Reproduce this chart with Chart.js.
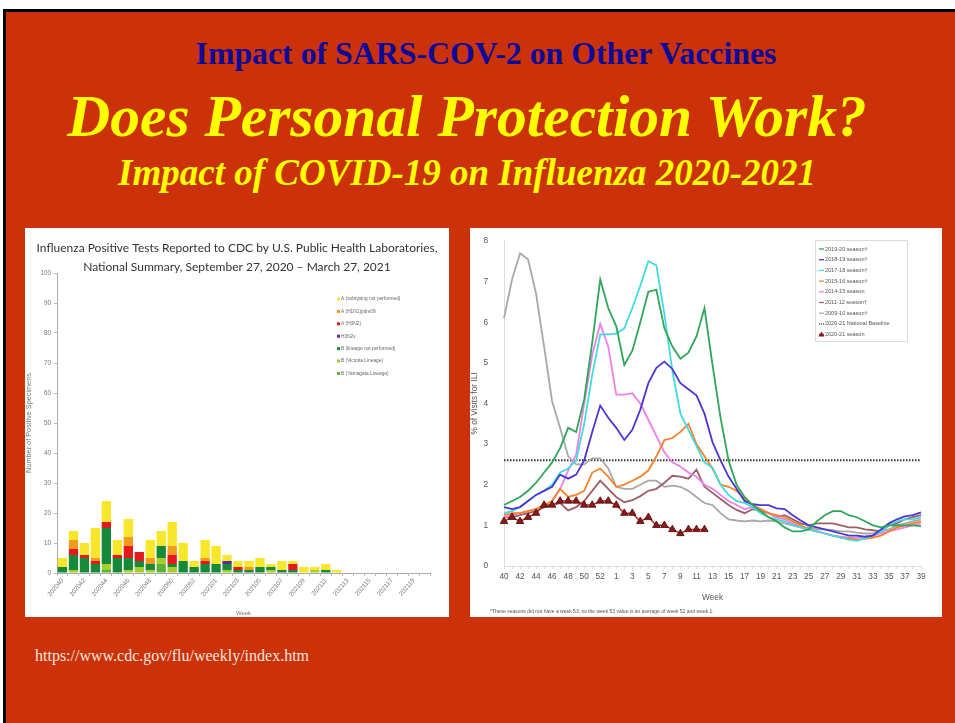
<!DOCTYPE html>
<html>
<head>
<meta charset="utf-8">
<script src="https://cdn.jsdelivr.net/npm/chart.js@4.4.1/dist/chart.umd.min.js"></script>
<style>
  html, body { margin: 0; padding: 0; background: #fff; }
  body { width: 955px; height: 723px; position: relative; overflow: hidden; }
  #slide { position: absolute; left: 3px; top: 9px; width: 960px; height: 720px;
           background: #cb3209; border-left: 3px solid #000; border-top: 3px solid #000; }
  .t { position: absolute; font-family: "Liberation Serif", "Times New Roman", serif;
       white-space: nowrap; line-height: 1; transform: translateX(-50%); }
  #h1 { left: 486px; top: 38px; font-size: 31.8px; font-weight: bold; color: #0b0b9a; }
  #h2 { left: 467px; top: 87px; font-size: 59.5px; font-weight: bold; font-style: italic; color: #ffff00; }
  #h3 { left: 467px; top: 154px; font-size: 37px; font-weight: bold; font-style: italic; color: #ffff00; }
  #src { position: absolute; left: 35px; top: 648px; font-family: "Liberation Serif", serif;
         font-size: 16px; line-height: 1; color: #f6e6dc; }
  .panel { position: absolute; background: #fff; }
  #p1 { left: 25px; top: 228px; width: 424px; height: 389px; }
  #p2 { left: 470px; top: 228px; width: 472px; height: 389px; }
</style>
</head>
<body>
<div id="slide"></div>
<div class="t" id="h1">Impact of SARS-COV-2 on Other Vaccines</div>
<div class="t" id="h2">Does Personal Protection Work?</div>
<div class="t" id="h3">Impact of COVID-19 on Influenza 2020-2021</div>
<div id="src">https://www.cdc.gov/flu/weekly/index.htm</div>
<div class="panel" id="p1"><canvas id="labChart" width="424" height="389"></canvas></div>
<div class="panel" id="p2"><canvas id="iliChart" width="472" height="389"></canvas></div>

<script>
// ---- left chart: public health lab positives, stacked by subtype ----
const labTitle = ['Influenza Positive Tests Reported to CDC by U.S. Public Health Laboratories,',
                  'National Summary, September 27, 2020 \u2013 March 27, 2021'];
const labWeeks = ['202040','202041','202042','202043','202044','202045','202046','202047','202048','202049',
  '202050','202051','202052','202053','202101','202102','202103','202104','202105','202106','202107',
  '202108','202109','202110','202111','202112','202113','202114','202115','202116','202117','202118',
  '202119','202120'];
const bYamagata   = [0,0,0,0,1,0,0,0,0,3, 0,0,0,0,0,0,0,0,0,0, 0,0,0,0,0,0,0,0,0,0, 0,0,0,0];
const bVictoria   = [0,1,0,0,2,0,1,2,1,2, 2,0,0,0,0,1,0,0,0,1, 0,0,0,1,0,0,0,0,0,0, 0,0,0,0];
const bNoLineage  = [2,5,5,3,12,5,4,2,2,4, 1,4,2,3,3,2,1,1,2,1, 1,1,0,0,1,0,0,0,0,0, 0,0,0,0];
const aH3N2v      = [0,0,0,0,0,0,0,0,0,0, 0,0,0,0,0,1,0,0,0,0, 0,0,0,0,0,0,0,0,0,0, 0,0,0,0];
const aH3N2       = [0,2,1,1,2,1,4,3,0,0, 3,0,0,1,0,0,1,0,0,0, 0,2,0,0,0,0,0,0,0,0, 0,0,0,0];
const aH1N1       = [0,3,0,1,0,0,3,0,2,0, 3,0,0,1,0,0,0,1,0,0, 0,0,0,0,0,0,0,0,0,0, 0,0,0,0];
const aNotSubtyped= [3,3,4,10,7,5,6,0,6,5, 8,6,2,6,6,2,2,2,3,1, 3,1,2,1,2,1,0,0,0,0, 0,0,0,0];
const labTicks = [0,10,20,30,40,50,60,70,80,90,100];

// ---- right chart: ILINet % visits ----
const iliWeeks = [40,41,42,43,44,45,46,47,48,49,50,51,52,53,1,2,3,4,5,6,7,8,9,10,11,12,13,14,15,16,17,
  18,19,20,21,22,23,24,25,26,27,28,29,30,31,32,33,34,35,36,37,38,39];
const s1920 = [1.5,1.6,1.7,1.85,2.05,2.3,2.55,2.9,3.4,3.3,4.1,5.5,7.05,6.35,5.9,4.95,5.3,6.0,6.75,6.8,
  5.85,5.4,5.1,5.25,5.65,6.35,4.95,3.65,2.6,2.0,1.7,1.5,1.35,1.2,1.1,0.95,0.85,0.85,0.9,1.1,1.25,1.35,
  1.35,1.25,1.2,1.1,1.0,0.95,1.0,1.0,1.0,1.0,0.98];
const s1819 = [1.45,1.4,1.45,1.6,1.75,1.85,1.95,2.25,2.15,2.25,2.6,3.3,3.95,3.65,3.4,3.1,3.35,3.85,4.5,
  4.88,5.03,4.85,4.5,4.35,4.2,3.75,3.05,2.6,2.2,1.9,1.6,1.52,1.5,1.5,1.42,1.4,1.25,1.12,1.0,0.95,0.9,
  0.85,0.8,0.75,0.75,0.72,0.75,0.9,1.05,1.15,1.22,1.25,1.32];
const s1718 = [1.3,1.35,1.45,1.6,1.75,1.85,2.0,2.3,2.4,2.6,3.5,4.7,5.7,5.7,5.72,5.85,6.35,6.9,7.5,7.4,
  6.2,4.8,3.75,3.35,2.95,2.55,2.42,2.0,1.75,1.6,1.55,1.45,1.3,1.2,1.15,1.1,1.0,0.95,0.9,0.85,0.8,0.75,
  0.7,0.65,0.62,0.68,0.75,0.85,1.0,1.1,1.15,1.15,1.2];
const s1516 = [1.25,1.3,1.3,1.35,1.4,1.5,1.6,1.9,1.7,1.75,1.85,2.3,2.4,2.2,1.95,2.0,2.1,2.2,2.35,2.7,
  3.1,3.15,3.3,3.5,3.0,2.7,2.4,2.0,1.95,1.85,1.65,1.5,1.4,1.3,1.25,1.2,1.1,1.0,0.9,0.85,0.8,0.75,0.7,
  0.68,0.65,0.67,0.7,0.75,0.85,0.95,1.0,1.05,1.1];
const s1415 = [1.2,1.25,1.3,1.35,1.4,1.5,1.6,1.9,2.35,2.75,4.0,5.2,5.96,5.4,4.22,4.22,4.25,4.0,3.6,3.2,
  2.8,2.55,2.45,2.3,2.2,2.0,1.9,1.75,1.6,1.5,1.4,1.45,1.4,1.3,1.2,1.15,1.05,0.95,0.9,0.85,0.8,0.75,
  0.72,0.7,0.7,0.72,0.75,0.8,0.85,0.9,0.95,1.0,1.05];
const s1112 = [1.2,1.2,1.25,1.3,1.35,1.45,1.5,1.55,1.37,1.45,1.6,1.85,2.1,1.9,1.7,1.57,1.62,1.72,1.85,
  1.9,2.05,2.22,2.2,2.15,2.37,1.95,1.8,1.65,1.5,1.38,1.3,1.4,1.35,1.3,1.2,1.25,1.15,1.05,1.0,1.05,1.05,
  1.05,1.0,0.95,0.95,0.9,0.88,0.85,1.0,1.05,1.15,1.2,1.25];
const s0910 = [6.1,7.05,7.7,7.55,6.7,5.4,4.05,3.4,2.7,2.5,2.5,2.65,2.65,2.4,1.95,1.9,1.9,2.0,2.1,2.1,
  1.95,1.98,1.95,1.85,1.7,1.55,1.5,1.3,1.15,1.12,1.1,1.12,1.1,1.12,1.1,1.05,1.0,0.95,0.95,0.9,0.9,
  0.88,0.85,0.85,0.82,0.8,0.8,0.85,0.9,1.0,1.05,1.1,1.15];
const baseline2021 = iliWeeks.map(() => 2.6);
const s2021 = [1.1,1.2,1.1,1.2,1.3,1.5,1.5,1.6,1.6,1.6,1.5,1.5,1.6,1.6,1.5,1.3,1.3,1.1,1.2,1.0,1.0,
  0.9,0.8,0.9,0.9,0.9];
const iliTicks = [0,1,2,3,4,5,6,7,8];
const iliNote = '*These seasons did not have a week 53, so the week 53 value is an average of week 52 and week 1.';

const sans = '"Liberation Sans", Arial, sans-serif';
Chart.defaults.font.family = sans;
Chart.defaults.animation = false;

// title + small legend drawn inside the plot, like the CDC figure
const labDecor = {
  id: 'labDecor',
  afterDraw(chart) {
    const ctx = chart.ctx;
    const ds = chart.data.datasets;
    ctx.save();
    ctx.fillStyle = '#333';
    ctx.textAlign = 'center';
    ctx.textBaseline = 'middle';
    ctx.font = '12px Lato, "Open Sans", sans-serif';
    labTitle.forEach((line, i) => ctx.fillText(line, chart.width / 2, 20 + i * 19));
    ctx.textAlign = 'left';
    ctx.font = '4.8px ' + sans;
    let y = 71;
    for (let i = ds.length - 1; i >= 0; i--) {
      ctx.fillStyle = ds[i].backgroundColor;
      ctx.fillRect(312, y - 1.5, 3, 3);
      ctx.fillStyle = '#666';
      ctx.fillText(ds[i].label, 316, y);
      y += 12.4;
    }
    ctx.restore();
  }
};

const iliDecor = {
  id: 'iliDecor',
  afterDraw(chart) {
    const ctx = chart.ctx;
    const ds = chart.data.datasets;
    ctx.save();
    ctx.strokeStyle = '#ccc';
    ctx.lineWidth = 0.7;
    ctx.strokeRect(345.5, 12.5, 92, 101);
    ctx.font = '5.5px ' + sans;
    ctx.textBaseline = 'middle';
    ds.forEach((d, i) => {
      const y = 21 + i * 10.7;
      ctx.strokeStyle = d.borderColor;
      ctx.lineWidth = 1.3;
      ctx.setLineDash(d.borderDash ? [1, 1] : []);
      ctx.beginPath();
      ctx.moveTo(349, y);
      ctx.lineTo(354, y);
      ctx.stroke();
      ctx.setLineDash([]);
      if (d.pointStyle === 'triangle') {
        ctx.fillStyle = d.pointBackgroundColor;
        ctx.beginPath();
        ctx.moveTo(351.5, y - 3);
        ctx.lineTo(354.5, y + 2);
        ctx.lineTo(348.5, y + 2);
        ctx.closePath();
        ctx.fill();
      }
      ctx.fillStyle = '#555';
      ctx.fillText(d.label, 355, y);
    });
    ctx.font = '5px ' + sans;
    ctx.fillStyle = '#555';
    ctx.fillText(iliNote, 20, 384);
    ctx.restore();
  }
};

function bar(label, data, color) {
  return { label, data, backgroundColor: color, borderWidth: 0, barPercentage: 0.85, categoryPercentage: 1 };
}

new Chart(document.getElementById('labChart'), {
  type: 'bar',
  data: {
    labels: labWeeks,
    datasets: [
      bar('B (Yamagata Lineage)', bYamagata, '#5bb237'),
      bar('B (Victoria Lineage)', bVictoria, '#a4cf2c'),
      bar('B (lineage not performed)', bNoLineage, '#178a3a'),
      bar('H3N2v', aH3N2v, '#5a2aa0'),
      bar('A (H3N2)', aH3N2, '#e5191b'),
      bar('A (H1N1)pdm09', aH1N1, '#f39a1e'),
      bar('A (subtyping not performed)', aNotSubtyped, '#f8e62a')
    ]
  },
  options: {
    responsive: false,
    layout: { padding: { top: 45, right: 19, bottom: 0, left: 0 } },
    plugins: { legend: { display: false }, tooltip: { enabled: false } },
    scales: {
      x: {
        stacked: true,
        grid: { drawOnChartArea: false, tickLength: 3, color: '#bbb' },
        border: { color: '#aaa' },
        ticks: {
          autoSkip: false, maxRotation: 50, minRotation: 50, padding: 1,
          font: { size: 6.3 }, color: '#777',
          callback(v, i) { return i % 2 === 0 ? this.getLabelForValue(v) : ''; }
        },
        title: { display: true, text: 'Week', font: { size: 6 }, color: '#777', padding: 0 },
        afterFit(s) { s.height = 44; }
      },
      y: {
        stacked: true, min: 0, max: 100,
        afterBuildTicks(s) { s.ticks = labTicks.map(v => ({ value: v })); },
        grid: { drawOnChartArea: false, tickLength: 3, color: '#bbb' },
        border: { color: '#aaa' },
        ticks: { font: { size: 6.3 }, color: '#777', padding: 3 },
        title: { display: true, text: 'Number of Positive Specimens', font: { size: 7.3 }, color: '#777', padding: 0 },
        afterFit(s) { s.width = 32; }
      }
    }
  },
  plugins: [labDecor]
});

function season(label, data, color) {
  return { label, data, borderColor: color, backgroundColor: color, borderWidth: 1.8,
           pointRadius: 0, tension: 0 };
}

new Chart(document.getElementById('iliChart'), {
  type: 'line',
  data: {
    labels: iliWeeks,
    datasets: [
      season('2019-20 season\u2020', s1920, '#2fa55a'),
      season('2018-19 season\u2020', s1819, '#4a37d2'),
      season('2017-18 season\u2020', s1718, '#42dbe0'),
      season('2015-16 season\u2020', s1516, '#f6812c'),
      season('2014-15 season', s1415, '#ee80e8'),
      season('2011-12 season\u2020', s1112, '#9c606a'),
      season('2009-10 season\u2020', s0910, '#a8a8a8'),
      { label: '2020-21 National Baseline', data: baseline2021, borderColor: '#333',
        borderWidth: 2, borderDash: [1.5, 1.5], pointRadius: 0 },
      { label: '2020-21 season', data: s2021, borderColor: '#b02a2a', borderWidth: 1.5,
        pointStyle: 'triangle', pointRadius: 4.3, pointBackgroundColor: '#8c1a1a',
        pointBorderColor: '#4d0505', pointBorderWidth: 0.8, order: -1 }
    ]
  },
  options: {
    responsive: false,
    layout: { padding: { top: 11, right: 21, bottom: 14, left: 0 } },
    plugins: { legend: { display: false }, tooltip: { enabled: false } },
    scales: {
      x: {
        offset: false,
        grid: { drawOnChartArea: false, tickLength: 3, color: '#ddd' },
        border: { color: '#ddd' },
        ticks: {
          autoSkip: false, maxRotation: 0, font: { size: 8.3 }, color: '#555',
          callback(v, i) { return i % 2 === 0 ? this.getLabelForValue(v) : ''; }
        },
        title: { display: true, text: 'Week', font: { size: 8.3 }, color: '#555', padding: { top: 3, bottom: 0 } },
        afterFit(s) { s.height = 37; }
      },
      y: {
        min: 0, max: 8,
        afterBuildTicks(s) { s.ticks = iliTicks.map(v => ({ value: v })); },
        grid: { display: false },
        border: { color: '#ddd' },
        ticks: { font: { size: 8.3 }, color: '#555', padding: 8 },
        title: { display: true, text: '% of Visits for ILI', font: { size: 8.3 }, color: '#555', padding: 0 },
        afterFit(s) { s.width = 34; }
      }
    }
  },
  plugins: [iliDecor]
});
</script>
</body>
</html>
